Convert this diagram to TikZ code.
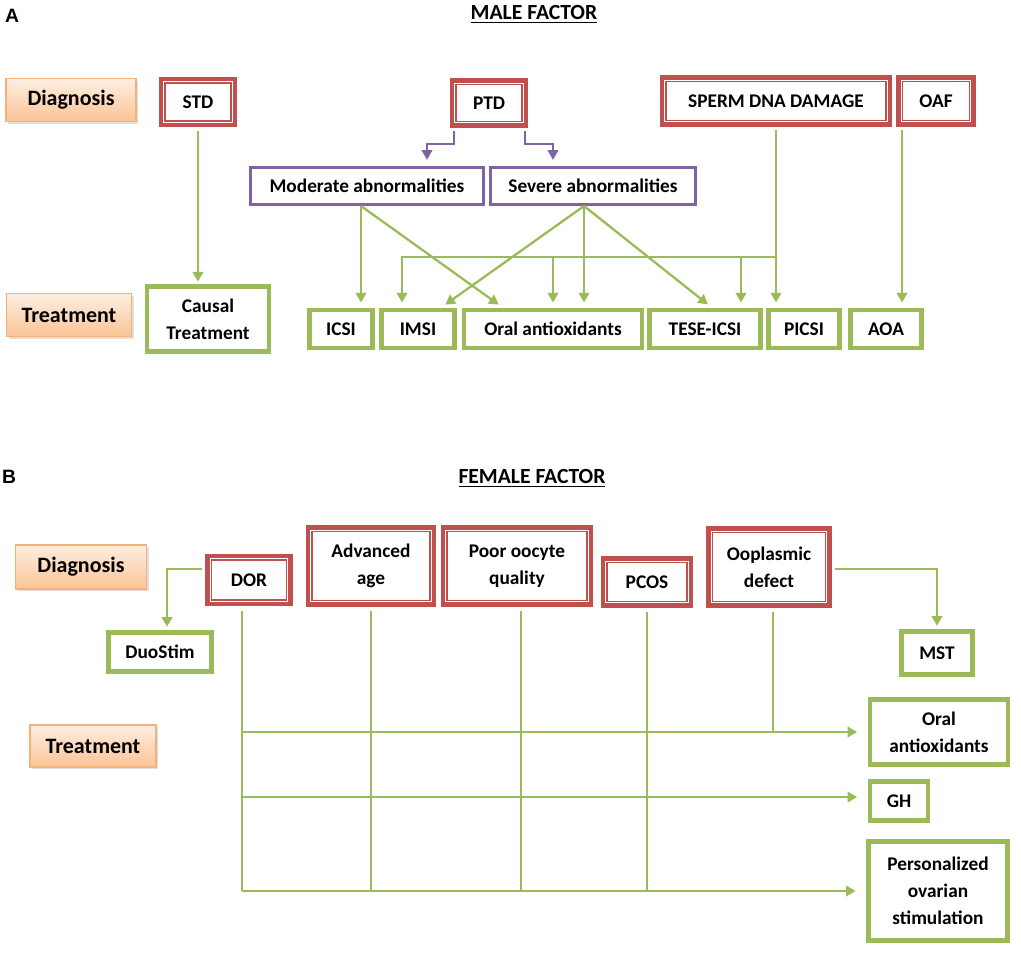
\documentclass[tikz,border=0pt]{standalone}
\usepackage{fontspec}
\setmainfont{Carlito}
\newfontfamily\panelfont{Liberation Sans}
\usepackage{tikz}
\usetikzlibrary{positioning,arrows.meta,shadows}
\definecolor{dred}{RGB}{192,80,77}
\definecolor{lgreen}{RGB}{155,187,89}
\definecolor{dviolet}{RGB}{128,100,162}
\definecolor{peachtop}{RGB}{254,238,226}
\definecolor{peachbot}{RGB}{250,196,150}
\definecolor{peachline}{RGB}{247,176,122}

\begin{document}
\begin{tikzpicture}[x=0.02cm, y=-0.02cm, ->, >={Triangle[length=5.5pt,width=6pt]}, font=\fontsize{11}{15.5}\selectfont\bfseries]
		\tikzstyle{diag}=[draw=dred, line width=2.8pt, fill=white, inner sep=0pt, align=center]
		\tikzstyle{diagin}=[-, draw=dred, line width=1pt]
		\tikzstyle{treat}=[draw=lgreen, line width=2.6pt, fill=white, inner sep=0pt, align=center]
		\tikzstyle{grade}=[draw=dviolet, line width=1.7pt, fill=white, inner sep=0pt]
		\tikzstyle{phase}=[draw=peachline, line width=0.7pt, top color=peachtop, bottom color=peachbot, drop shadow={shadow xshift=1.3pt, shadow yshift=-1.3pt, fill=black!25}, inner sep=0pt, font=\fontsize{12.5}{14}\selectfont\bfseries]
		\tikzstyle{gline}=[draw=lgreen, line width=1.3pt]
		\tikzstyle{pline}=[draw=dviolet, line width=1pt]
		\tikzstyle{title}=[font=\fontsize{12.3}{14}\selectfont\bfseries]
		\tikzstyle{panel}=[font=\fontsize{11}{12}\selectfont\panelfont\bfseries]

		\useasboundingbox (0,0) rectangle (1021,957);

		% A: male factor
		\node[panel] (tagA) at (12,16) {A};
		\node[title] (maleF) at (534,14) {\underline{MALE FACTOR}};

		\node[phase, minimum width=2.6cm, minimum height=0.86cm] (diagA) at (71,100) {Diagnosis};
		\node[phase, minimum width=2.5cm, minimum height=0.86cm] (treatA) at (69,315) {Treatment};

		\node[diag, minimum width=1.48cm, minimum height=0.92cm] (std) at (198,102) {STD};
		\node[diag, minimum width=1.48cm, minimum height=0.9cm] (ptd) at (489,103) {PTD};
		\node[diag, minimum width=4.56cm, minimum height=0.94cm] (sdna) at (776,101) {SPERM DNA DAMAGE};
		\node[diag, minimum width=1.5cm, minimum height=0.94cm] (oaf) at (936,101) {OAF};

		\node[grade, minimum width=4.68cm, minimum height=0.74cm] (modab) at (367,186) {Moderate abnormalities};
		\node[grade, minimum width=4.1cm, minimum height=0.74cm] (sevab) at (593,186) {Severe abnormalities};

		\node[treat, minimum width=2.44cm, minimum height=1.3cm] (causal) at (208,319) {Causal\\Treatment};
		\node[treat, minimum width=1.26cm, minimum height=0.76cm] (icsi) at (341,329) {ICSI};
		\node[treat, minimum width=1.46cm, minimum height=0.76cm] (imsi) at (418,329) {IMSI};
		\node[treat, minimum width=3.56cm, minimum height=0.76cm] (oralA) at (553,329) {Oral antioxidants};
		\node[treat, minimum width=2.22cm, minimum height=0.76cm] (tese) at (705,329) {TESE-ICSI};
		\node[treat, minimum width=1.42cm, minimum height=0.76cm] (picsi) at (804,329) {PICSI};
		\node[treat, minimum width=1.42cm, minimum height=0.76cm] (aoa) at (886,329) {AOA};

		% B: female factor
		\node[panel] (tagB) at (9,477) {B};
		\node[title] (femF) at (532,478) {\underline{FEMALE FACTOR}};

		\node[phase, minimum width=2.62cm, minimum height=0.88cm] (diagB) at (81,567) {Diagnosis};
		\node[phase, minimum width=2.52cm, minimum height=0.84cm] (treatB) at (93,746) {Treatment};

		\node[diag, minimum width=1.66cm, minimum height=0.96cm] (dor) at (249,580) {DOR};
		\node[diag, minimum width=2.52cm, minimum height=1.54cm] (advage) at (371,566) {Advanced\\age};
		\node[diag, minimum width=2.96cm, minimum height=1.54cm] (poor) at (517,566) {Poor oocyte\\quality};
		\node[diag, minimum width=1.76cm, minimum height=0.94cm] (pcos) at (647,582) {PCOS};
		\node[diag, minimum width=2.42cm, minimum height=1.54cm] (oopl) at (769,567) {Ooplasmic\\defect};

		\node[treat, minimum width=2.06cm, minimum height=0.78cm] (duostim) at (160,652) {DuoStim};
		\node[treat, minimum width=1.42cm, minimum height=0.86cm] (mst) at (937,653) {MST};
		\node[treat, minimum width=2.76cm, minimum height=1.3cm] (oralB) at (939,732) {Oral\\antioxidants};
		\node[treat, minimum width=1.16cm, minimum height=0.78cm] (gh) at (899,801) {GH};
		\node[treat, minimum width=2.78cm, minimum height=1.98cm] (pers) at (938,891) {Personalized\\ovarian\\stimulation};

		% inner line of the red boxes
		\foreach \redbox in {std,ptd,sdna,oaf,dor,advage,poor,pcos,oopl}
			\draw[diagin] ([shift={(3.7pt,-3.7pt)}]\redbox.north west) rectangle ([shift={(-3.7pt,3.7pt)}]\redbox.south east);

		% A connectors
		\draw[gline, shorten <=2pt, shorten >=1.5pt] (std.south) -- (std.south |- causal.north);
		\draw[pline, shorten <=2pt, shorten >=3.5pt] ([shift={(-35,0)}]ptd.south) -- ++(0,16) -| ([shift={(60,0)}]modab.north);
		\draw[pline, shorten <=2pt, shorten >=3.5pt] ([shift={(36,0)}]ptd.south) -- ++(0,16) -| ([shift={(-40,0)}]sevab.north);

		\coordinate (mA) at ([shift={(-6,0)}]modab.south);
		\coordinate (sA) at ([shift={(-9,0)}]sevab.south);
		\draw[gline, shorten >=3pt] (mA) -- (mA |- icsi.north);
		\draw[gline, shorten >=3pt] (mA) -- ([shift={(-50,0)}]oralA.north);
		\draw[gline, shorten >=3pt] (sA) -- ([shift={(23,0)}]imsi.north);
		\draw[gline, shorten >=3pt] (sA) -- (sA |- oralA.north);
		\draw[gline, shorten >=3pt] (sA) -- ([shift={(7,0)}]tese.north);

		\path (sdna.south) ++(1,130) coordinate (bus);
		\coordinate (imsiIn) at ([shift={(-16,0)}]imsi.north);
		\coordinate (teseIn) at ([shift={(36,0)}]tese.north);
		\draw[gline, shorten >=3pt] (bus) -| (imsiIn);
		\draw[gline, shorten >=3pt] (bus -| oralA.north) -- (oralA.north);
		\draw[gline, shorten >=3pt] (bus -| teseIn) -- (teseIn);
		\draw[gline, shorten <=2pt, shorten >=3pt] (sdna.south) -- (sdna.south |- picsi.north);
		\draw[gline, shorten <=2pt, shorten >=3pt] ([shift={(-34,0)}]oaf.south) -- ([shift={(16,0)}]aoa.north);

		% B connectors
		\draw[gline, shorten <=2pt, shorten >=2pt] ([shift={(0,-11)}]dor.west) -| ([shift={(7,0)}]duostim.north);
		\draw[gline, shorten <=2pt, shorten >=2pt] ([shift={(0,2)}]oopl.east) -| (mst.north);

		\coordinate (dorT) at ([shift={(-7,0)}]dor.south);
		\coordinate (poorT) at ([shift={(4,0)}]poor.south);
		\coordinate (ooplT) at ([shift={(4,0)}]oopl.south);
		\coordinate (ghIn) at ([shift={(0,-4)}]gh.west);
		\draw[gline, -, shorten <=2.5pt] (dorT) -- (dorT |- pers.west);
		\draw[gline, -, shorten <=2.5pt] (advage.south) -- (advage.south |- pers.west);
		\draw[gline, -, shorten <=2.5pt] (poorT) -- (poorT |- pers.west);
		\draw[gline, -, shorten <=2.5pt] (pcos.south) -- (pcos.south |- pers.west);
		\draw[gline, -, shorten <=2.5pt] (ooplT) -- (ooplT |- oralB.west);
		\draw[gline, shorten >=6pt] (dorT |- oralB.west) -- (oralB.west);
		\draw[gline, shorten >=6pt] (dorT |- ghIn) -- (ghIn);
		\draw[gline, shorten >=6pt] (dorT |- pers.west) -- (pers.west);
	\end{tikzpicture}
\end{document}
